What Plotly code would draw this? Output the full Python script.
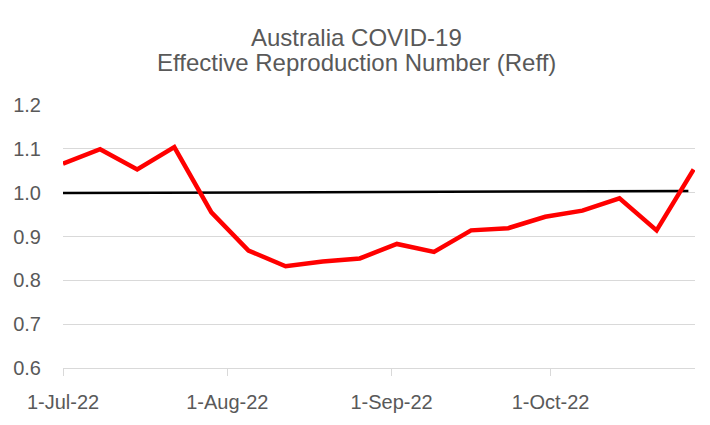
import plotly.graph_objects as go

dates = ["2022-07-01", "2022-07-08", "2022-07-15", "2022-07-22", "2022-07-29",
         "2022-08-05", "2022-08-12", "2022-08-19", "2022-08-26", "2022-09-02",
         "2022-09-09", "2022-09-16", "2022-09-23", "2022-09-30", "2022-10-07",
         "2022-10-14", "2022-10-21", "2022-10-28"]
reff = [1.066, 1.099, 1.053, 1.104, 0.955, 0.868, 0.832, 0.843, 0.850, 0.883,
        0.865, 0.914, 0.919, 0.945, 0.959, 0.987, 0.914, 1.053]
threshold_dates = ["2022-07-01", "2022-10-27"]
threshold = [0.999, 1.004]
tick_dates = ["2022-07-01", "2022-08-01", "2022-09-01", "2022-10-01"]
tick_labels = ["1-Jul-22", "1-Aug-22", "1-Sep-22", "1-Oct-22"]
y_ticks = [0.6, 0.7, 0.8, 0.9, 1.0, 1.1, 1.2]
title_lines = ["Australia COVID-19", "Effective Reproduction Number (Reff)"]

font_family = "Liberation Sans, Arial, sans-serif"
grey = "#595959"

fig = go.Figure()
fig.add_trace(go.Scatter(x=threshold_dates, y=threshold, mode="lines",
                         line=dict(color="black", width=2.5), showlegend=False))
fig.add_trace(go.Scatter(x=dates, y=reff, mode="lines",
                         line=dict(color="#ff0000", width=4.5), showlegend=False))

# page body has an 8px margin, so figure coordinates are offset by 8px
m_l, m_r, m_t, m_b = 55, 23, 97, 65
plot_h = 425 - m_t - m_b
for txt, ypix in zip(title_lines, [29, 55]):
    fig.add_annotation(text=txt, xref="paper", yref="paper",
                       x=0.465, y=1 + (m_t - ypix) / plot_h,
                       xanchor="center", yanchor="middle", showarrow=False,
                       font=dict(family=font_family, size=24, color=grey))

fig.update_layout(
    width=710, height=425,
    margin=dict(l=m_l, r=m_r, t=m_t, b=m_b),
    paper_bgcolor="white", plot_bgcolor="white",
    font=dict(family=font_family, color=grey),
    xaxis=dict(type="date", range=["2022-07-01", "2022-10-28 06:00"],
               tickvals=tick_dates, ticktext=tick_labels,
               ticks="outside", ticklen=7, tickcolor="#d9d9d9", tickwidth=1,
               showline=True, linecolor="#d9d9d9", linewidth=1,
               showgrid=False, zeroline=False, automargin=False,
               ticklabelstandoff=9,
               tickfont=dict(size=20, color=grey)),
    yaxis=dict(range=[0.6, 1.2], tickvals=y_ticks, tickformat=".1f",
               showgrid=True, gridcolor="#d9d9d9", gridwidth=1,
               zeroline=False, showline=False, ticks="", automargin=False,
               ticklabelstandoff=21,
               tickfont=dict(size=20, color=grey)),
)

fig.write_html("out.html")
